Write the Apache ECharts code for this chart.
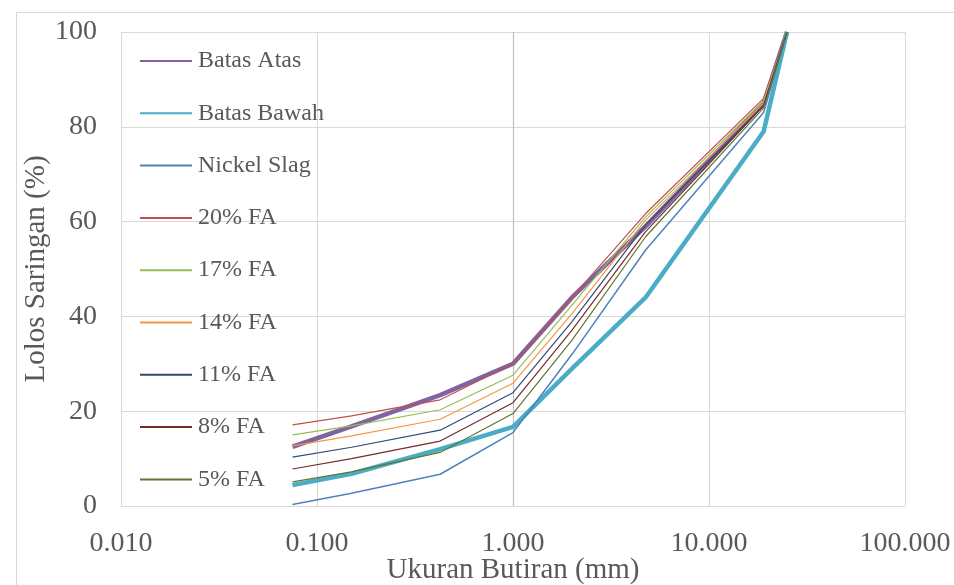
<!DOCTYPE html>
<html><head><meta charset="utf-8">
<script src="https://cdn.jsdelivr.net/npm/echarts@6/dist/echarts.min.js"></script>
<style>html,body{margin:0;padding:0;background:#fff}#c{width:954px;height:585px}</style>
</head><body><div id="c"></div>
<script>
// Sieve sizes (mm)
const sieveSizes = [0.075, 0.15, 0.425, 1.0, 2.0, 4.75, 19, 25];
// Percent passing
const batasAtas  = [12.5, 16.8, 23.4, 30.0, 44.0, 59.0, 85.0, 100];
const batasBawah = [4.4, 6.8, 12.0, 16.7, 29.0, 44.0, 79.0, 100];
const nickelSlag = [0.3, 2.7, 6.7, 15.5, 32.0, 54.0, 83.0, 100];
const fa20 = [17.1, 19.0, 22.4, 30.0, 44.0, 61.7, 86.0, 100];
const fa17 = [15.0, 16.9, 20.3, 27.6, 42.4, 61.0, 85.5, 100];
const fa14 = [12.7, 14.8, 18.3, 25.9, 40.6, 60.3, 85.0, 100];
const fa11 = [10.3, 12.4, 16.0, 23.9, 38.9, 59.3, 84.5, 100];
const fa8  = [7.8, 10.0, 13.7, 21.8, 37.1, 57.9, 84.5, 100];
const fa5  = [5.1, 7.2, 11.3, 19.5, 35.0, 56.8, 84.0, 100];

const seriesNames = ['Batas Atas','Batas Bawah','Nickel Slag','20% FA','17% FA','14% FA','11% FA','8% FA','5% FA'];
const seriesValues = [batasAtas, batasBawah, nickelSlag, fa20, fa17, fa14, fa11, fa8, fa5];
const seriesColors = ['#8064A2','#4BACC6','#4F81BD','#C0504D','#9BBB59','#F79646','#2C4D75','#772C2A','#5F7530'];
const seriesWidths = [4.5, 4.5, 1.5, 1.2, 1.2, 1.2, 1.2, 1.2, 1.2];

const xAxisTitle = 'Ukuran Butiran (mm)';
const yAxisTitle = 'Lolos Saringan (%)';

const FONT = 'Liberation Serif, Times New Roman, serif';
const TXT = '#595959';

const series = seriesNames.map((n, k) => ({
  name: n,
  type: 'line',
  symbol: 'none',
  showSymbol: false,
  smooth: false,
  data: sieveSizes.map((x, i) => [x, seriesValues[k][i]]),
  lineStyle: { color: seriesColors[k], width: seriesWidths[k] },
  itemStyle: { color: seriesColors[k] },
  emphasis: { disabled: true },
  z: 3
}));
// vertical axis crossing line at x = 1 (Excel default for log axis)
series[0].markLine = {
  silent: true, symbol: 'none', label: { show: false },
  lineStyle: { color: '#BFBFBF', type: 'solid', width: 1.2 },
  data: [{ xAxis: 1 }], z: 1
};

const chart = echarts.init(document.getElementById('c'), null, { renderer: 'canvas' });
chart.setOption({
  animation: false,
  backgroundColor: '#fff',
  graphic: [{
    type: 'rect', silent: true, z: -10,
    shape: { x: 16.5, y: 12.5, width: 1000, height: 1000 },
    style: { fill: 'none', stroke: '#D9D9D9', lineWidth: 1 }
  }],
  grid: { left: 121, right: 49, top: 32, bottom: 79, containLabel: false, outerBoundsMode: 'none' },
  legend: {
    orient: 'vertical', left: 139, top: 49, padding: 0,
    itemWidth: 52, itemHeight: 12, itemGap: 28.3,
    data: seriesNames,
    itemStyle: { opacity: 0, borderWidth: 0 },
    textStyle: { fontFamily: FONT, fontSize: 24, color: TXT, lineHeight: 20, padding: [0, 0, 0, 1] },
    selectedMode: false
  },
  xAxis: {
    type: 'log', logBase: 10, min: 0.01, max: 100,
    name: xAxisTitle, nameLocation: 'middle', nameGap: 50, nameMoveOverlap: false,
    nameTextStyle: { fontFamily: FONT, fontSize: 29, color: TXT },
    axisLine: { show: true, lineStyle: { color: '#D9D9D9', width: 1 } },
    axisTick: { show: false },
    splitLine: { show: true, lineStyle: { color: '#D9D9D9', width: 1 } },
    axisLabel: { fontFamily: FONT, fontSize: 28, color: TXT, margin: 24,
      formatter: v => Number(v).toFixed(3) }
  },
  yAxis: {
    type: 'value', min: 0, max: 100, interval: 20,
    name: yAxisTitle, nameLocation: 'middle', nameGap: 70, nameMoveOverlap: false,
    nameTextStyle: { fontFamily: FONT, fontSize: 29, color: TXT },
    axisLine: { show: true, lineStyle: { color: '#D9D9D9', width: 1 } },
    axisTick: { show: false },
    splitLine: { show: true, lineStyle: { color: '#D9D9D9', width: 1 } },
    axisLabel: { fontFamily: FONT, fontSize: 28, color: TXT, margin: 24 }
  },
  series: series
});
</script>
</body></html>
